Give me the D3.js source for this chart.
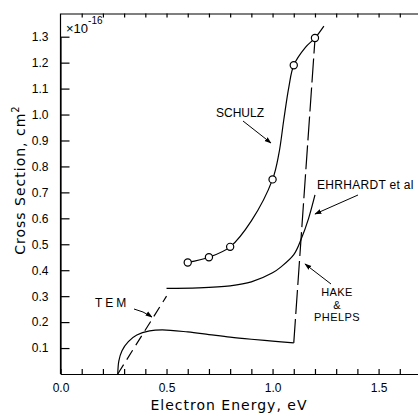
<!DOCTYPE html>
<html>
<head>
<meta charset="utf-8">
<script src="https://cdn.jsdelivr.net/npm/d3@7"></script>
<style>
  body { margin: 0; background: #fff; }
  svg { font-family: "Liberation Sans", Arial, sans-serif; }
  .axis path, .axis line { stroke: #000; stroke-width: 1.2; }
  .axis text { font-size: 12px; fill: #000; }
  .curve { fill: none; stroke: #000; stroke-width: 1.2; }
  .lbl { font-size: 12px; fill: #000; }
  .hp { font-size: 11px; letter-spacing: 0.4px; }
  .title { font-family: "DejaVu Sans", sans-serif; font-size: 14px; letter-spacing: 1px; }
</style>
</head>
<body>
<svg id="chart" width="418" height="416"></svg>
<script>
// cross section values in units of 1e-16 cm^2, energy in eV
var schulzPts = [[0.6, 0.43], [0.7, 0.45], [0.8, 0.49], [1.0, 0.75], [1.1, 1.19], [1.2, 1.295]];
var schulzCurve = [[0.6, 0.43], [0.7, 0.45], [0.8, 0.49], [0.9, 0.59], [1.0, 0.75], [1.03, 0.85],
                   [1.053, 0.98], [1.077, 1.107], [1.1, 1.19], [1.156, 1.26], [1.2, 1.295], [1.242, 1.341]];
var ehrhardt = [[0.5, 0.33], [0.65, 0.332], [0.8, 0.34], [0.9, 0.355], [1.0, 0.39], [1.04, 0.413],
                [1.1, 0.46], [1.135, 0.52], [1.17, 0.6], [1.2, 0.69]];
var hakeSolid = [[0.27, 0.0], [0.275, 0.05], [0.29, 0.09], [0.32, 0.125], [0.36, 0.15], [0.42, 0.166],
                 [0.48, 0.17], [0.6, 0.162], [0.7, 0.152], [0.8, 0.142], [0.9, 0.134], [1.0, 0.127], [1.1, 0.12]];
var hakeDash = [[1.1, 0.12], [1.2, 1.29]];
var temDash = [[0.27, 0.0], [0.5, 0.30]];
var yTicks = [0.1, 0.2, 0.3, 0.4, 0.5, 0.6, 0.7, 0.8, 0.9, 1.0, 1.1, 1.2, 1.3];
var xTicks = [0, 0.1, 0.2, 0.3, 0.4, 0.5, 0.6, 0.7, 0.8, 0.9, 1.0, 1.1, 1.2, 1.3, 1.4, 1.5, 1.6];
var xLabels = [0, 0.5, 1.0, 1.5];

var svg = d3.select("#chart");
var x = d3.scaleLinear().domain([0, 1.7]).range([60.5, 421]);
var y = d3.scaleLinear().domain([0, 1.3]).range([374, 36.7]);
var yTop = 13.5;

// arrow head
svg.append("defs").append("marker")
   .attr("id", "arr").attr("viewBox", "0 0 10 10")
   .attr("refX", 9).attr("refY", 5)
   .attr("markerWidth", 7).attr("markerHeight", 7)
   .attr("markerUnits", "userSpaceOnUse")
   .attr("orient", "auto")
   .append("path").attr("d", "M0,1.5L10,5L0,8.5Z").attr("fill", "#000");

// axes
svg.append("g").attr("class", "axis")
   .attr("transform", "translate(" + x(0) + ",0)")
   .call(d3.axisLeft(y).tickValues(yTicks).tickSize(-9).tickSizeOuter(0).tickPadding(12)
        .tickFormat(d3.format(".1f")));
svg.append("line").attr("x1", x(0)).attr("x2", x(0)).attr("y1", yTop).attr("y2", y(0))
   .attr("stroke", "#000").attr("stroke-width", 1.2);

svg.append("g").attr("class", "axis")
   .attr("transform", "translate(0," + y(0) + ")")
   .call(d3.axisBottom(x).tickValues(xTicks).tickSize(-5).tickSizeOuter(0).tickPadding(9)
        .tickFormat(function(d) {
          return xLabels.some(function(v) { return Math.abs(v - d) < 1e-6; }) ? d3.format(".1f")(d) : "";
        }));

svg.append("g").attr("class", "axis")
   .attr("transform", "translate(0," + yTop + ")")
   .call(d3.axisTop(x).tickValues(xTicks.slice(1)).tickSize(-4).tickSizeOuter(0).tickFormat(""));

// axis titles
svg.append("text").attr("class", "title").attr("x", 229).attr("y", 410).attr("text-anchor", "middle")
   .text("Electron Energy, eV");
var yl = svg.append("text").attr("class", "title").attr("transform", "translate(25,180) rotate(-90)")
   .attr("text-anchor", "middle");
yl.append("tspan").text("Cross Section, cm");
yl.append("tspan").attr("dy", -6).attr("font-size", "10px").text("2");

var sc = svg.append("text").attr("x", 66).attr("y", 33).attr("font-size", "13px");
sc.append("tspan").text("\u00d710");
sc.append("tspan").attr("dy", -9).attr("font-size", "10px").text("-16");

var line = d3.line().x(function(d) { return x(d[0]); }).y(function(d) { return y(d[1]); });
var smooth = d3.line().curve(d3.curveCatmullRom.alpha(0.5))
   .x(function(d) { return x(d[0]); }).y(function(d) { return y(d[1]); });

svg.append("path").datum(schulzCurve).attr("class", "curve").attr("d", smooth);
svg.append("path").datum(ehrhardt).attr("class", "curve").attr("d", smooth);
svg.append("path").datum(hakeSolid).attr("class", "curve").attr("d", smooth);
svg.append("path").datum(hakeDash).attr("class", "curve").attr("stroke-dasharray", "24,5").attr("d", line);
svg.append("path").datum(temDash).attr("class", "curve").attr("stroke-dasharray", "11,6").attr("d", line);

svg.selectAll(".pt").data(schulzPts).enter().append("circle")
   .attr("class", "pt")
   .attr("cx", function(d) { return x(d[0]); })
   .attr("cy", function(d) { return y(d[1]); })
   .attr("r", 3.6).attr("fill", "#fff").attr("stroke", "#000").attr("stroke-width", 1.2);

// labels and arrows
svg.append("text").attr("class", "lbl").attr("x", 216).attr("y", 117).text("SCHULZ");
svg.append("line").attr("x1", 243).attr("y1", 121).attr("x2", 271).attr("y2", 143)
   .attr("stroke", "#000").attr("stroke-width", 1).attr("marker-end", "url(#arr)");

svg.append("text").attr("class", "lbl").attr("x", 317).attr("y", 189).attr("letter-spacing", "0.3px").text("EHRHARDT et al");
svg.append("line").attr("x1", 358).attr("y1", 195).attr("x2", 315).attr("y2", 214)
   .attr("stroke", "#000").attr("stroke-width", 1).attr("marker-end", "url(#arr)");

svg.append("text").attr("class", "lbl hp").attr("x", 337).attr("y", 296).attr("text-anchor", "middle").text("HAKE");
svg.append("text").attr("class", "lbl hp").attr("x", 337).attr("y", 308.5).attr("text-anchor", "middle").text("&");
svg.append("text").attr("class", "lbl hp").attr("x", 337).attr("y", 321).attr("text-anchor", "middle").text("PHELPS");
svg.append("line").attr("x1", 331).attr("y1", 284).attr("x2", 305).attr("y2", 264)
   .attr("stroke", "#000").attr("stroke-width", 1).attr("marker-end", "url(#arr)");

svg.append("text").attr("class", "lbl").attr("x", 95).attr("y", 307).attr("letter-spacing", "3px").text("TEM");
svg.append("path").attr("d", "M134,309Q143,311 152,317")
   .attr("fill", "none").attr("stroke", "#000").attr("stroke-width", 1).attr("marker-end", "url(#arr)");
</script>
</body>
</html>
